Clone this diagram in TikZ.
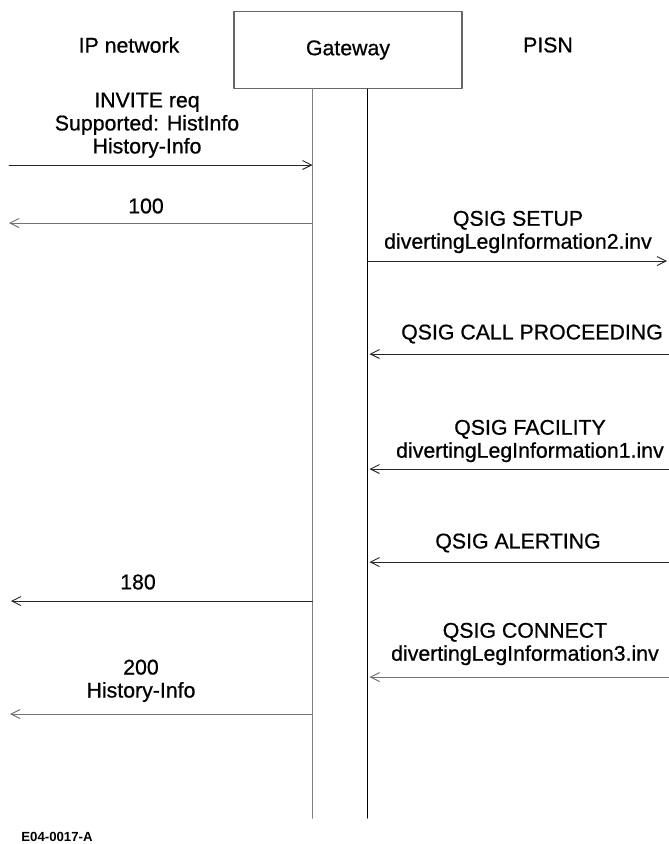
\documentclass[tikz,border=0pt]{standalone}
\usepackage{fontspec}
\setmainfont{Liberation Sans}
\newfontfamily\msgfont{Liberation Sans}[FakeBold=0.7]
\usetikzlibrary{arrows.meta}

\begin{document}
\begin{tikzpicture}[x=1pt, y=-1pt, >={Straight Barb[length=9pt,width=9pt]},
    line cap=round, line join=round,
    msg/.style={font=\msgfont\fontsize{21.3}{23}\selectfont, inner sep=0pt, align=center},
    sig/.style={->, line width=0.9pt, black!85},
    siggrey/.style={->, line width=1pt, black!55}]

  \useasboundingbox (0,0) rectangle (669,844);

  %--------------------------
  % Heading
  %--------------------------
  \node[msg, draw=black!60, line width=1.2pt, minimum width=228pt, minimum height=77pt]
    (gw) at (348,50) {Gateway};
  \node[msg] (ip) at (129,45) {IP network};
  \node[msg] (pisn) at (548,45) {PISN};

  % Lifelines of the gateway
  \coordinate (gwIP) at (312.5,89);
  \coordinate (gwQ) at (367.5,89);
  \coordinate (gwIPend) at (312.5,818);
  \coordinate (gwQend) at (367.5,818);
  \draw[line width=1.7pt, black!50] (gwIP) -- (gwIPend);
  \draw[line width=1pt] (gwQ) -- (gwQend);

  %--------------------------
  % IP side
  %--------------------------
  \coordinate (inv) at (9,165);
  \draw[sig] (inv) -- (inv -| gwIP);
  \node[msg] (invTxt) at (147,125.3) {INVITE req\\Supported: HistInfo\\History-Info};

  \coordinate (trying) at (9,223);
  \draw[siggrey] (trying -| gwIP) -- (trying);
  \node[msg] (tryingTxt) at (146,206) {100};

  \coordinate (ringing) at (11,601);
  \draw[sig] (ringing -| gwIP) -- (ringing);
  \node[msg] (ringingTxt) at (138,582) {180};

  \coordinate (ok) at (10,714);
  \draw[siggrey] (ok -| gwIP) -- (ok);
  \node[msg] (okTxt) at (141,680.8) {200\\History-Info};

  %--------------------------
  % QSIG side
  %--------------------------
  \coordinate (setup) at (667,261);
  \draw[sig] (setup -| gwQ) -- (setup);
  \node[msg] (setupTxt) at (518,232) {QSIG SETUP\\divertingLegInformation2.inv};

  \coordinate (proc) at (669,354);
  \draw[sig] (proc) -- ([xshift=2pt]proc -| gwQ);
  \node[msg] (procTxt) at (532,334) {QSIG CALL PROCEEDING};

  \coordinate (fac) at (669,469);
  \draw[sig] (fac) -- ([xshift=2pt]fac -| gwQ);
  \node[msg] (facTxt) at (530,441) {QSIG FACILITY\\divertingLegInformation1.inv};

  \coordinate (alert) at (669,562);
  \draw[sig] (alert) -- ([xshift=2pt]alert -| gwQ);
  \node[msg] (alertTxt) at (518,543) {QSIG ALERTING};

  \coordinate (conn) at (669,677);
  \draw[siggrey] (conn) -- ([xshift=2pt]conn -| gwQ);
  \node[msg] (connTxt) at (525,644) {QSIG CONNECT\\divertingLegInformation3.inv};

  % Figure number
  \node[font=\bfseries\fontsize{13.2}{15}\selectfont, inner sep=0pt] (fig) at (57,837) {E04-0017-A};

\end{tikzpicture}
\end{document}
